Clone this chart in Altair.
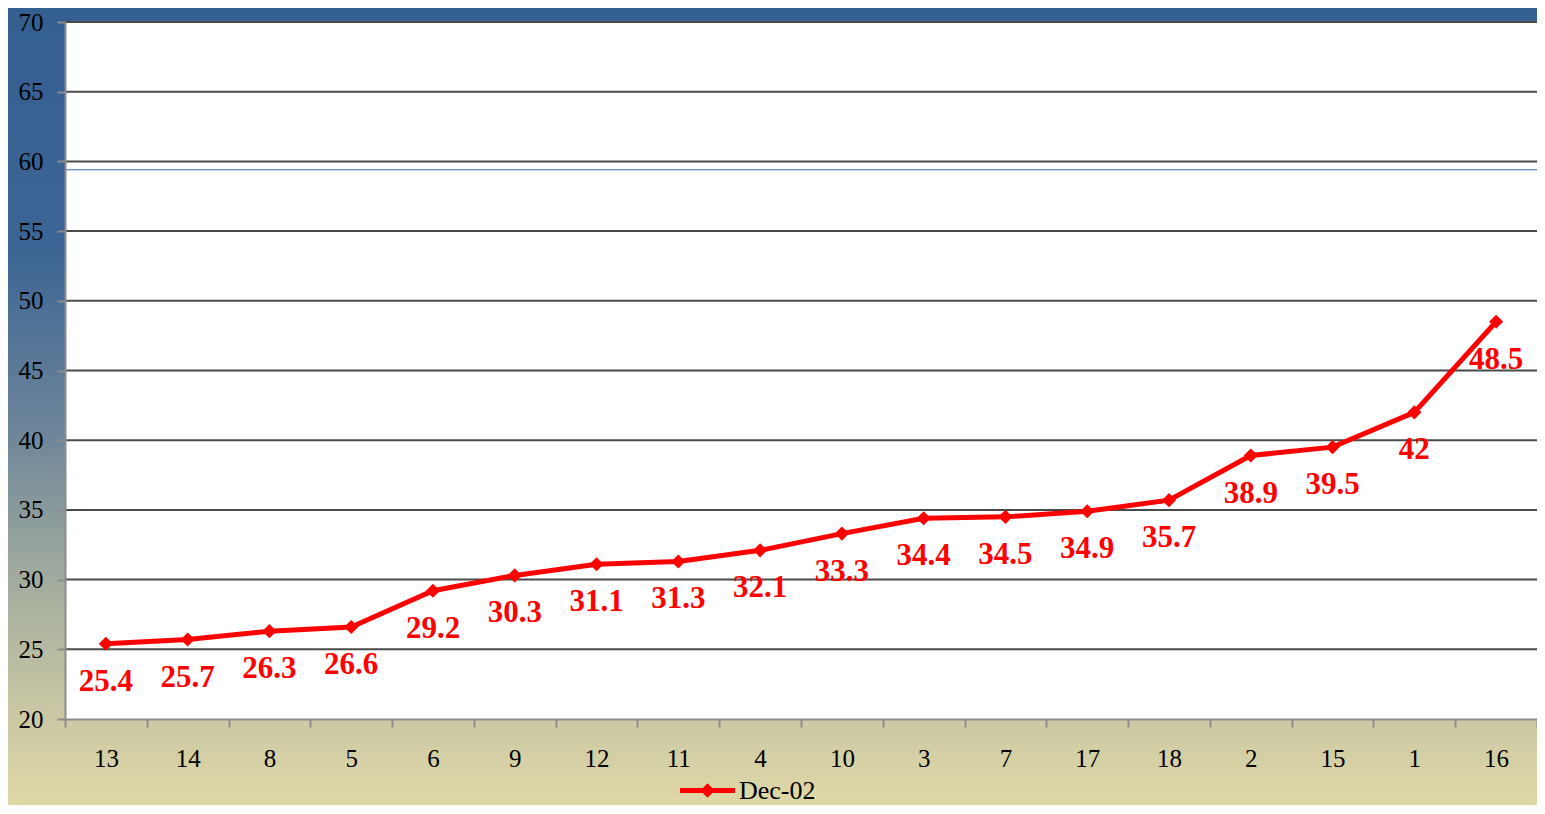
import altair as alt
import pandas as pd

categories = ["13", "14", "8", "5", "6", "9", "12", "11", "4", "10", "3", "7", "17", "18", "2", "15", "1", "16"]
values = [25.4, 25.7, 26.3, 26.6, 29.2, 30.3, 31.1, 31.3, 32.1, 33.3, 34.4, 34.5, 34.9, 35.7, 38.9, 39.5, 42, 48.5]
series_name = "Dec-02"
grid_values = [25, 30, 35, 40, 45, 50, 55, 60, 65, 70]
blue_line_value = [59.4]

W, H = 1472, 697
PL, PT, PB = 57, 14, 86

df = pd.DataFrame({"cat": categories, "val": values, "series": series_name})
df["label"] = [("%g" % v) for v in values]
grid_df = pd.DataFrame({"g": grid_values})
blue_df = pd.DataFrame({"b": blue_line_value})

xs = alt.Scale(domain=categories, type="band", paddingInner=0, paddingOuter=0)
ys = alt.Scale(domain=[20, 70], nice=False, zero=False)

x_axis = alt.Axis(title=None, labelFont="Liberation Serif", labelFontSize=25, labelColor="black",
                  labelAngle=0, labelPadding=19, tickBand="extent", tickSize=8, tickColor="#8c8c8c",
                  tickWidth=2, domainColor="#8c8c8c", domainWidth=2, grid=False, zindex=1)
y_axis = alt.Axis(title=None, values=[20, 25, 30, 35, 40, 45, 50, 55, 60, 65, 70], labelFont="Liberation Serif",
                  labelFontSize=25, labelColor="black", labelPadding=14, tickSize=8, tickColor="#8c8c8c",
                  tickWidth=2, domainColor="#8c8c8c", domainWidth=2, grid=False, zindex=1)

gradient = alt.Gradient(
    gradient="linear", x1=0, y1=0, x2=0, y2=1,
    stops=[
        alt.GradientStop(color="#345f91", offset=0),
        alt.GradientStop(color="#3b6594", offset=0.3),
        alt.GradientStop(color="#6a8399", offset=0.52),
        alt.GradientStop(color="#a3ad9e", offset=0.72),
        alt.GradientStop(color="#c9c7a4", offset=0.88),
        alt.GradientStop(color="#e0d8a6", offset=1),
    ],
)

bg = alt.Chart(df.head(1)).mark_rect(fill=gradient).encode(
    x=alt.value(-PL), x2=alt.value(W + 10), y=alt.value(-PT), y2=alt.value(H + PB + 2)
)
white = alt.Chart(df.head(1)).mark_rect(fill="white").encode(
    x=alt.value(0), x2=alt.value(W), y=alt.value(0), y2=alt.value(H)
)
grid = alt.Chart(grid_df).mark_rule(color="#4a4a4a", strokeWidth=2).encode(
    y=alt.Y("g:Q", scale=ys, axis=y_axis)
)
blue = alt.Chart(blue_df).mark_rule(color="#3a6aa5", strokeWidth=1).encode(
    y=alt.Y("b:Q", scale=ys)
)

base = alt.Chart(df).encode(
    x=alt.X("cat:N", scale=xs, sort=categories, axis=x_axis),
    y=alt.Y("val:Q", scale=ys),
)
color = alt.Color("series:N", scale=alt.Scale(range=["#ff0000"]),
                  legend=alt.Legend(title=None, orient="none", legendX=615, legendY=741,
                                    symbolType="M-1,-0.09H1V0.09H-1Z M0,-0.26L0.26,0L0,0.26L-0.26,0Z",
                                    symbolSize=3025, symbolStrokeWidth=0,
                                    labelFont="Liberation Serif", labelFontSize=26, labelColor="black",
                                    labelOffset=4))
line = base.mark_line(color="#ff0000", strokeWidth=5)
points = base.mark_point(shape="diamond", filled=True, size=200, opacity=1).encode(color=color)
labels = base.mark_text(font="Liberation Serif", fontSize=31, fontWeight="bold", color="#ff0000",
                        dy=38, baseline="middle").encode(text="label:N")

chart = alt.layer(bg, white, grid, blue, line, points, labels).properties(
    width=W, height=H,
    padding={"left": PL, "top": PT, "right": 0, "bottom": PB},
    autosize=alt.AutoSizeParams(type="none"),
).configure_view(stroke=None)

chart.save("out.html", embed_options={"renderer": "svg", "actions": False})
